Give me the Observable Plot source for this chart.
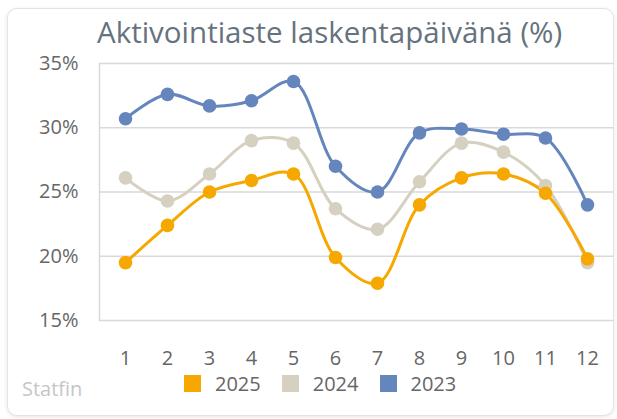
<!DOCTYPE html>
<html>
<head>
<meta charset="utf-8">
<script src="https://cdn.jsdelivr.net/npm/d3@7"></script>
<script src="https://cdn.jsdelivr.net/npm/@observablehq/plot@0.6"></script>
<style>
  body { margin:0; background:#fff; width:617px; height:419px; overflow:hidden; font-family:"Open Sans", sans-serif; }
  #card { position:absolute; left:7px; top:8px; width:605px; height:406px; border:1px solid #e4e4e4; border-radius:10px; box-shadow:0 1px 4px rgba(0,0,0,0.10); background:#fff; }
  #title { position:absolute; left:97px; top:11px; font-size:29.5px; color:#66727e; white-space:nowrap; line-height:normal; }
  #chart { position:absolute; left:0; top:0; }
  #legend { position:absolute; left:184px; top:370px; display:flex; align-items:center; font-size:20px; color:#666; line-height:normal; }
  .item { display:flex; align-items:center; margin-right:21px; }
  .sw { width:17px; height:17px; margin-right:14px; }
  #src { position:absolute; left:22px; top:375px; font-size:20px; color:#c6c6c6; line-height:normal; }
</style>
</head>
<body>
<div id="card"></div>
<div id="title">Aktivointiaste laskentapäivänä (%)</div>
<div id="chart"></div>
<div id="legend"></div>
<div id="src">Statfin</div>
<script>
const months = ["1","2","3","4","5","6","7","8","9","10","11","12"];
const series = ["2025","2024","2023"];
const colors = ["#F6A800","#D6D0C1","#6586BD"];
const values2025 = [19.5, 22.4, 25.0, 25.9, 26.4, 19.9, 17.9, 24.0, 26.1, 26.4, 24.9, 19.8];
const values2024 = [26.1, 24.3, 26.4, 29.0, 28.8, 23.7, 22.1, 25.8, 28.8, 28.1, 25.5, 19.5];
const values2023 = [30.7, 32.6, 31.7, 32.1, 33.6, 27.0, 25.0, 29.6, 29.9, 29.5, 29.2, 24.0];
const yTicks = [15, 20, 25, 30, 35];

const valueLists = {"2025": values2025, "2024": values2024, "2023": values2023};
// draw order: 2023 at bottom, 2025 on top
const drawOrder = ["2023", "2024", "2025"];
const data = drawOrder.flatMap(s => valueLists[s].map((v, i) => ({month: months[i], value: v, year: s})));

const chart = Plot.plot({
  width: 617,
  height: 370,
  marginLeft: 99,
  marginRight: 4,
  marginTop: 63,
  marginBottom: 50,
  style: { fontFamily: "Open Sans, sans-serif", background: "transparent" },
  x: { type: "point", domain: months, padding: 0.5, label: null },
  y: { domain: [15, 35], ticks: yTicks, label: null },
  color: { domain: series, range: colors },
  marks: [
    Plot.gridY(yTicks, { stroke: "#d9d9d9", strokeOpacity: 1, strokeWidth: 1.5 }),
    Plot.frame({ anchor: "left", stroke: "#d9d9d9", strokeWidth: 1.5 }),
    Plot.axisY(yTicks, { tickSize: 0, tickPadding: 21, tickFormat: d => d + "%", fontSize: 20, fill: "#666" }),
    Plot.axisX({ tickSize: 0, tickPadding: 30, fontSize: 20, fill: "#666" }),
    Plot.line(data, { x: "month", y: "value", z: "year", stroke: "year", strokeWidth: 3, curve: "catmull-rom" }),
    Plot.dot(data, { x: "month", y: "value", fill: "year", r: 6.8 })
  ]
});
document.getElementById("chart").appendChild(chart);

const legend = document.getElementById("legend");
series.forEach((s, i) => {
  const item = document.createElement("div");
  item.className = "item";
  const sw = document.createElement("div");
  sw.className = "sw";
  sw.style.background = colors[i];
  const lab = document.createElement("span");
  lab.textContent = s;
  item.appendChild(sw);
  item.appendChild(lab);
  legend.appendChild(item);
});
</script>
</body>
</html>
